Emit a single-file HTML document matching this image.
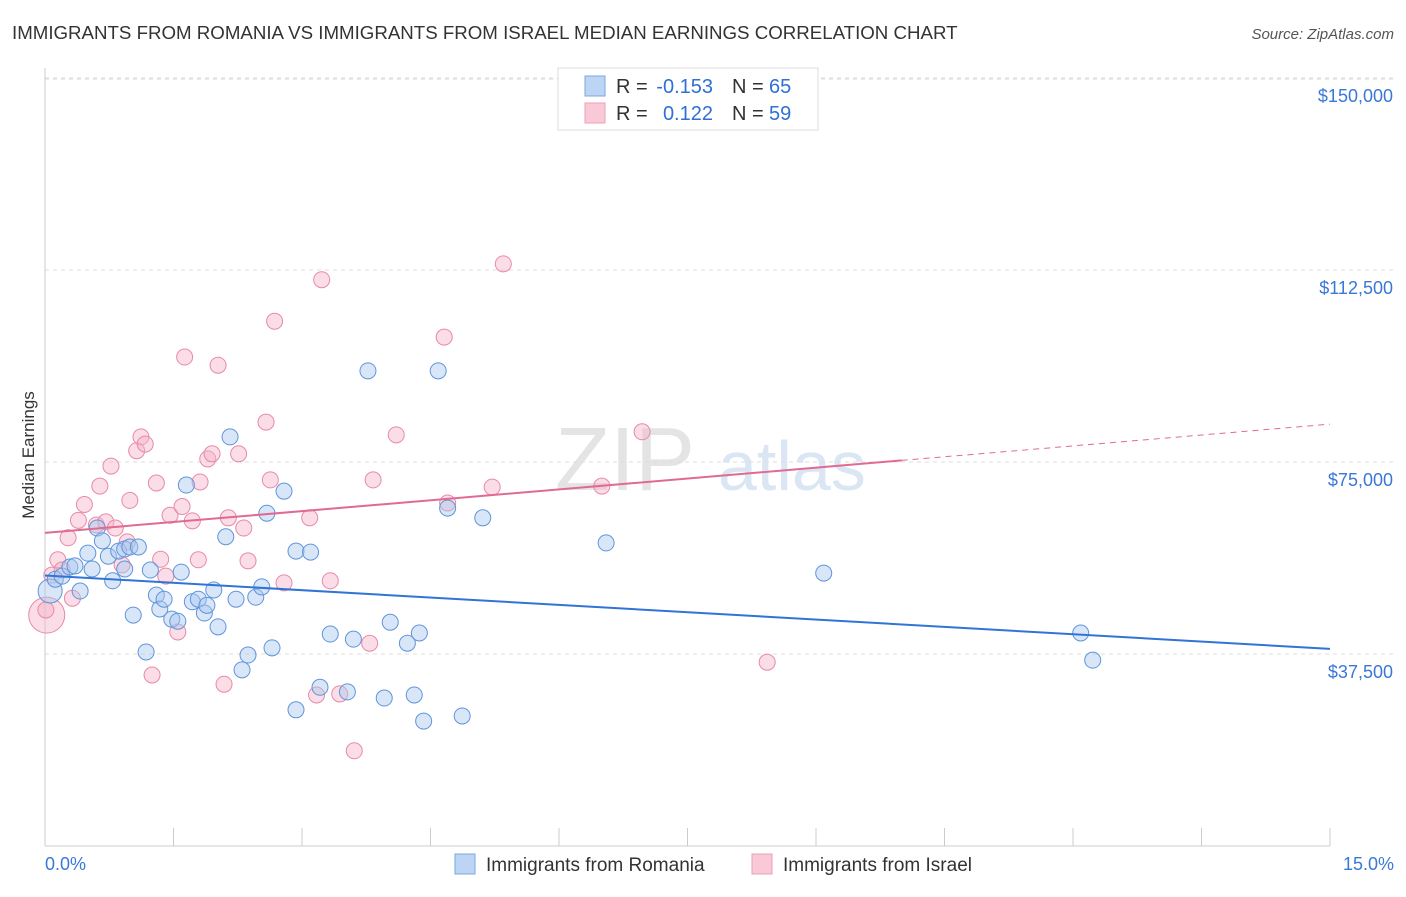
<!DOCTYPE html>
<html><head><meta charset="utf-8"><style>
body{margin:0;background:#fff;font-family:"Liberation Sans",sans-serif;}
svg text{font-family:"Liberation Sans",sans-serif;}
</style></head><body>
<svg id="chart" width="1406" height="892">
<text x="12" y="39" font-size="18.7" fill="#333">IMMIGRANTS FROM ROMANIA VS IMMIGRANTS FROM ISRAEL MEDIAN EARNINGS CORRELATION CHART</text>
<text x="1394" y="39" font-size="15" fill="#555" font-style="italic" text-anchor="end">Source: ZipAtlas.com</text>
<text x="34" y="455" font-size="17" fill="#333" transform="rotate(-90 34 455)" text-anchor="middle">Median Earnings</text>
<text x="555" y="490" font-size="90" fill="#e4e4e4" font-family="Liberation Serif">ZIP</text>
<text x="718" y="490" font-size="70" fill="#dbe6f4">atlas</text>
<g id="grid"></g><g id="pts"></g><g id="lines"></g>
<g>
<rect x="558" y="68" width="260" height="62" fill="#fff" stroke="#ddd"/>
<rect x="585" y="76" width="20" height="20" fill="#bcd5f5" stroke="#7aa6e0"/>
<rect x="585" y="103" width="20" height="20" fill="#f9c9d8" stroke="#eba1b9"/>
<text x="616" y="93" font-size="20" fill="#333">R =</text>
<text x="713" y="93" font-size="20" fill="#2f6fd6" text-anchor="end">-0.153</text>
<text x="732" y="93" font-size="20" fill="#333">N =</text>
<text x="769" y="93" font-size="20" fill="#2f6fd6">65</text>
<text x="616" y="120" font-size="20" fill="#333">R =</text>
<text x="713" y="120" font-size="20" fill="#2f6fd6" text-anchor="end">0.122</text>
<text x="732" y="120" font-size="20" fill="#333">N =</text>
<text x="769" y="120" font-size="20" fill="#2f6fd6">59</text>
</g>
<g>
<rect x="455" y="854" width="20" height="20" fill="#bcd5f5" stroke="#7aa6e0"/>
<text x="486" y="871" font-size="19" fill="#333">Immigrants from Romania</text>
<rect x="752" y="854" width="20" height="20" fill="#f9c9d8" stroke="#eba1b9"/>
<text x="783" y="871" font-size="19" fill="#333">Immigrants from Israel</text>
</g>
<text x="45" y="870" font-size="18" fill="#3a78d8">0.0%</text>
<text x="1394" y="870" font-size="18" fill="#3a78d8" text-anchor="end">15.0%</text>
</svg>
<script>
const yTicks=[37500,75000,112500,150000];
const yTickLabels=["$37,500","$75,000","$112,500","$150,000"];
const romaniaX=[0.06,0.12,0.2,0.29,0.35,0.41,0.5,0.55,0.61,0.67,0.74,0.79,0.86,0.93,0.93,0.99,1.09,1.03,1.18,1.23,1.3,1.34,1.39,1.48,1.55,1.59,1.65,1.72,1.79,1.86,1.89,1.97,2.02,2.11,2.16,2.23,2.3,2.37,2.46,2.53,2.59,2.65,2.79,2.93,2.93,3.1,3.21,3.33,3.53,3.6,3.77,3.96,4.03,4.23,4.31,4.37,4.42,4.59,4.7,4.87,5.11,6.55,9.09,12.09,12.23];
const romaniaY=[49800,52100,52700,54500,54700,49800,57200,54100,62100,59600,56600,51800,57600,58000,54100,58400,58400,45100,37900,53900,49000,46300,48200,44300,43900,53500,70500,47700,48200,45500,47000,50000,42800,60400,79900,48200,34400,37300,48600,50600,65000,38700,69300,26600,57600,57400,31000,41400,30100,40400,92800,28900,43700,39600,29500,41600,24400,92800,66000,25400,64100,59200,53300,41600,36300];
const israelX=[0.02,0.08,0.15,0.2,0.27,0.32,0.39,0.46,0.6,0.64,0.71,0.77,0.82,0.9,0.96,0.99,1.07,1.12,1.17,1.25,1.3,1.35,1.41,1.46,1.55,1.6,1.63,1.72,1.79,1.81,1.9,1.95,2.02,2.09,2.14,2.26,2.32,2.37,2.58,2.63,2.68,2.79,3.09,3.17,3.23,3.33,3.44,3.61,3.79,3.83,4.1,4.66,4.7,5.22,5.35,6.5,6.97,8.43,0.01];
const israelY=[45100,52900,55900,53900,60200,48400,63600,66700,62700,70300,63300,74200,62100,54900,59400,67500,77200,79900,78500,33400,70900,56000,52700,64600,41800,66300,95500,63500,55900,71100,75600,76600,93900,31600,64100,76600,62100,55700,82800,71500,102500,51400,64100,29500,110600,51800,29700,18600,39600,71500,80300,99400,67000,70100,113700,70300,80900,35900,46100];
const X0=45,X1=1330,Y0=846,PPY=192/37500;
const sx=v=>X0+v/15*(X1-X0), sy=v=>Y0-v*PPY;
const NS="http://www.w3.org/2000/svg";
function mk(t,a,p){const e=document.createElementNS(NS,t);for(const k in a)e.setAttribute(k,a[k]);p.appendChild(e);return e;}
const grid=document.getElementById('grid');
yTicks.forEach((v,i)=>{
 const l=mk('line',{x1:X0,x2:1394,y1:sy(v),y2:sy(v),stroke:'#ddd','stroke-dasharray':'4,4'},grid);
 
 
 const t=mk('text',{x:1393,y:sy(v)+24,'font-size':18,fill:'#3a78d8','text-anchor':'end'},grid);
 t.textContent=yTickLabels[i];
 
 
});
const topLine=mk('line',{x1:X0,x2:1394,y1:79,y2:79,stroke:'#ddd','stroke-dasharray':'4,4'},grid);


mk('line',{x1:X0,x2:X0,y1:68,y2:846,stroke:'#ccc'},grid);
mk('line',{x1:X0,x2:X1,y1:846,y2:846,stroke:'#ccc'},grid);
for(let i=0;i<=10;i++){const x=sx(i*1.5);const t=mk('line',{x1:x,x2:x,y1:828,y2:846,stroke:'#ccc'},grid);
 
 }
const pts=document.getElementById('pts');
function dots(xs,ys,fill,stroke,name,bigR){
 xs.forEach((x,i)=>{const r=(i===0)?bigR:8;
  const c=mk('circle',{cx:sx(x),cy:sy(ys[i]),r:r,fill:fill,'fill-opacity':0.45,stroke:stroke,'stroke-width':1},pts);
  
  });
}
dots(israelX,israelY,'#f5b3c8','#e88aa8','israel-point',18);
dots(romaniaX,romaniaY,'#a9c8f0','#5f95dc','romania-point',12);
const lines=document.getElementById('lines');
function fit(xs,ys){const n=xs.length;let mx=0,my=0;xs.forEach((x,i)=>{mx+=x;my+=ys[i];});mx/=n;my/=n;let a=0,b=0;xs.forEach((x,i)=>{a+=(x-mx)*(ys[i]-my);b+=(x-mx)*(x-mx);});const s=a/b;return x=>my+s*(x-mx);}
const fr=fit(romaniaX,romaniaY), fi=fit(israelX,israelY);
let l=mk('line',{x1:sx(0),y1:sy(fr(0)),x2:sx(15),y2:sy(fr(15)),stroke:'#2f74d6','stroke-width':2},lines);


l=mk('line',{x1:sx(0),y1:sy(fi(0)),x2:sx(10),y2:sy(fi(10)),stroke:'#e06a92','stroke-width':2},lines);


l=mk('line',{x1:sx(10),y1:sy(fi(10)),x2:sx(15),y2:sy(fi(15)),stroke:'#e06a92','stroke-width':1,'stroke-dasharray':'6,5'},lines);


</script>
</body></html>
